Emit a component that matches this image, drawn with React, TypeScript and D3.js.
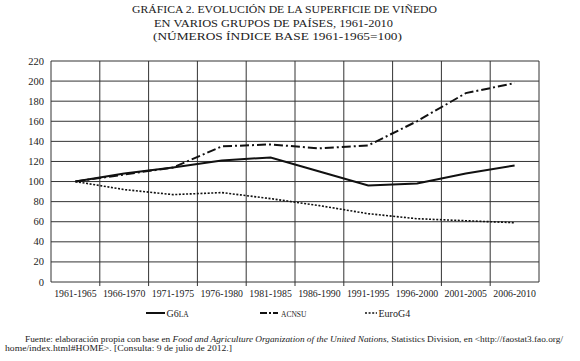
import React, { useEffect, useRef } from "react";
import * as d3 from "d3";

// periodos (eje x)
const periods = [
  "1961-1965", "1966-1970", "1971-1975", "1976-1980", "1981-1985",
  "1986-1990", "1991-1995", "1996-2000", "2001-2005", "2006-2010",
];
// series, índice base 1961-1965 = 100
const g6la = [100, 108, 114, 121, 124, 110, 96, 98, 108, 116];
const acnsu = [100, 107, 114, 135, 137, 133, 136, 160, 188, 198];
const euroG4 = [100, 92, 87, 89, 83, 76, 68, 63, 61, 59];
const yTicks = [0, 20, 40, 60, 80, 100, 120, 140, 160, 180, 200, 220];

const titleLines = [
  "GRÁFICA 2. EVOLUCIÓN DE LA SUPERFICIE DE VIÑEDO",
  "EN VARIOS GRUPOS DE PAÍSES, 1961-2010",
  "(NÚMEROS ÍNDICE BASE 1961-1965=100)",
];

const series = [
  { key: "G6", sub: "LA", values: g6la, dash: null, width: 2 },
  { key: "", sub: "ACNSU", values: acnsu, dash: "9,3,2,3", width: 2 },
  { key: "EuroG4", sub: "", values: euroG4, dash: "2,1.6", width: 1.6 },
];

const W = 580;
const H = 361;
const FONT = "'Liberation Serif', 'Times New Roman', serif";

const App = () => {
  const svgRef = useRef(null);

  useEffect(() => {
    const svg = d3.select(svgRef.current);
    svg.selectAll("*").remove();

    const left = 51, right = 539, top = 61, bottom = 282;

    const x = d3.scaleBand().domain(periods).range([left, right]);
    const y = d3.scaleLinear().domain([0, 220]).range([bottom, top]);

    // título (inicio y ancho medidos en la imagen)
    const titlePos = [
      { x: 132, w: 305, y: 13.3 },
      { x: 154, w: 239, y: 26.5 },
      { x: 153, w: 249, y: 39.5 },
    ];
    svg
      .append("g")
      .selectAll("text")
      .data(titleLines)
      .enter()
      .append("text")
      .attr("x", (d, i) => titlePos[i].x)
      .attr("y", (d, i) => titlePos[i].y)
      .attr("textLength", (d, i) => titlePos[i].w)
      .attr("lengthAdjust", "spacingAndGlyphs")
      .style("font-family", FONT)
      .style("font-size", "11px")
      .style("fill", "#222")
      .text((d) => d);

    // rejilla horizontal
    svg
      .append("g")
      .selectAll("line")
      .data(yTicks)
      .enter()
      .append("line")
      .attr("x1", left)
      .attr("x2", right)
      .attr("y1", (d) => y(d))
      .attr("y2", (d) => y(d))
      .style("stroke", "#333")
      .style("stroke-width", 1);

    // rejilla vertical (límites de cada banda) + marcas
    const bounds = periods.map((p) => x(p)).concat([right]);
    svg
      .append("g")
      .selectAll("line")
      .data(bounds)
      .enter()
      .append("line")
      .attr("x1", (d) => d)
      .attr("x2", (d) => d)
      .attr("y1", top)
      .attr("y2", (d, i) => (i === 0 || i === bounds.length - 1 ? bottom : bottom + 4))
      .style("stroke", "#333")
      .style("stroke-width", 1);

    // etiquetas eje y
    svg
      .append("g")
      .selectAll("text")
      .data(yTicks)
      .enter()
      .append("text")
      .attr("x", 44)
      .attr("y", (d) => y(d) + 3.5)
      .attr("text-anchor", "end")
      .style("font-family", FONT)
      .style("font-size", "10.5px")
      .style("fill", "#222")
      .text((d) => d);

    // etiquetas eje x
    svg
      .append("g")
      .selectAll("text")
      .data(periods)
      .enter()
      .append("text")
      .attr("x", (d) => x(d) + x.bandwidth() / 2)
      .attr("y", 296.5)
      .attr("text-anchor", "middle")
      .style("font-family", FONT)
      .style("font-size", "9.8px")
      .style("fill", "#222")
      .text((d) => d);

    // líneas
    const line = d3
      .line()
      .x((d, i) => x(periods[i]) + x.bandwidth() / 2)
      .y((d) => y(d));

    series.forEach((s) => {
      const p = svg
        .append("path")
        .datum(s.values)
        .attr("d", line)
        .style("fill", "none")
        .style("stroke", "#111")
        .style("stroke-width", s.width);
      if (s.dash) p.style("stroke-dasharray", s.dash);
    });

    // leyenda
    const legendY = 313;
    const legendX = [146, 260, 365];
    const legendLen = [19, 18, 12];
    series.forEach((s, i) => {
      const g = svg.append("g").attr("transform", `translate(${legendX[i]},${legendY})`);
      const ln = g
        .append("line")
        .attr("x1", 0)
        .attr("x2", legendLen[i])
        .attr("y1", 0)
        .attr("y2", 0)
        .style("stroke", "#111")
        .style("stroke-width", s.width);
      if (s.dash) ln.style("stroke-dasharray", i === 1 ? "7,2,2,2" : s.dash);
      const t = g
        .append("text")
        .attr("x", legendLen[i] + (i === 1 ? 3 : 1.5))
        .attr("y", 3.5)
        .style("font-family", FONT)
        .style("font-size", "10px")
        .style("fill", "#222");
      if (s.key) t.append("tspan").text(s.key);
      if (s.sub) t.append("tspan").style("font-size", "7.5px").text(s.sub);
    });

    // fuente
    const foot = svg
      .append("text")
      .attr("x", 25)
      .attr("y", 342)
      .attr("textLength", 538)
      .attr("lengthAdjust", "spacingAndGlyphs")
      .style("font-family", FONT)
      .style("font-size", "8.6px")
      .style("fill", "#222");
    foot.append("tspan").text("Fuente: elaboración propia con base en ");
    foot
      .append("tspan")
      .style("font-style", "italic")
      .text("Food and Agriculture Organization of the United Nations");
    foot
      .append("tspan")
      .text(", Statistics Division, en <http://faostat3.fao.org/");
    svg
      .append("text")
      .attr("x", 5)
      .attr("y", 350.5)
      .attr("textLength", 227)
      .attr("lengthAdjust", "spacingAndGlyphs")
      .style("font-family", FONT)
      .style("font-size", "8.6px")
      .style("fill", "#222")
      .text("home/index.html#HOME>. [Consulta: 9 de julio de 2012.]");
  }, []);

  return (
    <svg
      ref={svgRef}
      width={W}
      height={H}
      style={{ position: "fixed", top: 0, left: 0, background: "#fff" }}
    />
  );
};

export default App;
